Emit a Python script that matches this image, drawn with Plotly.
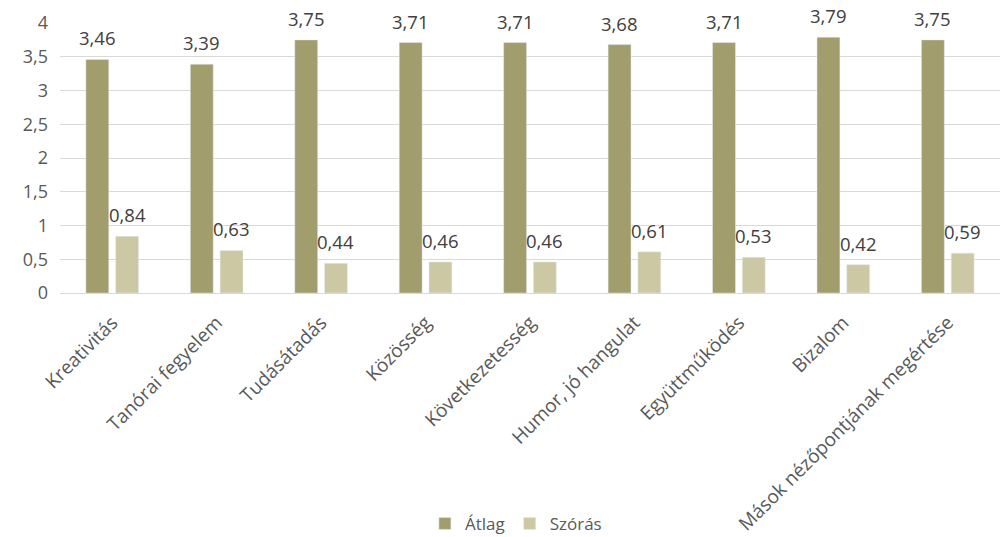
import plotly.graph_objects as go

categories = ["Kreativitás", "Tanórai fegyelem", "Tudásátadás", "Közösség",
              "Következetesség", "Humor, jó hangulat", "Együttműködés",
              "Bizalom", "Mások nézőpontjának megértése"]
atlag = [3.46, 3.39, 3.75, 3.71, 3.71, 3.68, 3.71, 3.79, 3.75]
szoras = [0.84, 0.63, 0.44, 0.46, 0.46, 0.61, 0.53, 0.42, 0.59]
y_ticks = [0, 0.5, 1, 1.5, 2, 2.5, 3, 3.5, 4]
y_tick_text = ["0", "0,5", "1", "1,5", "2", "2,5", "3", "3,5", "4"]

FONT = "Open Sans"
BARGAP = 0.43
fig = go.Figure()
fig.add_trace(go.Bar(x=categories, y=atlag, name="Átlag", marker_color="#A19D6C"))
fig.add_trace(go.Bar(x=categories, y=szoras, name="Szórás", marker_color="#CCC8A3"))

# data labels placed at bar centres in category units
slot = (1 - BARGAP) / 2
for series, off in ((atlag, -slot / 2), (szoras, slot / 2)):
    for i, v in enumerate(series):
        fig.add_annotation(x=i + off, y=v, xref="x", yref="y",
                           text=f"{v:.2f}".replace(".", ","), showarrow=False,
                           yanchor="bottom", yshift=7,
                           font=dict(size=18.5, color="#404040", family=FONT))

fig.update_layout(
    width=1000, height=537,
    margin=dict(l=60, r=0, t=23, b=244, autoexpand=False),
    plot_bgcolor="white", paper_bgcolor="white",
    barmode="group", bargap=BARGAP, bargroupgap=0.23,
    font=dict(family=FONT, color="#595959", size=16),
    separators=", ",
    legend=dict(orientation="h", x=0.485, xanchor="center", y=-0.855, yanchor="middle",
                font=dict(size=17, color="#595959"), itemwidth=30),
    showlegend=True,
)
fig.update_yaxes(range=[0, 4], tickvals=y_ticks, ticktext=y_tick_text,
                 showgrid=True, gridcolor="#D9D9D9", gridwidth=1,
                 zeroline=False, showline=False, ticks="", automargin=False,
                 tickfont=dict(size=18, color="#595959"), ticklabelstandoff=11)
fig.update_xaxes(tickangle=-45, showline=True, linecolor="#D9D9D9", linewidth=1,
                 ticks="", automargin=False, ticklabelstandoff=10,
                 tickfont=dict(size=19, color="#595959"))

fig.write_html("out.html")
